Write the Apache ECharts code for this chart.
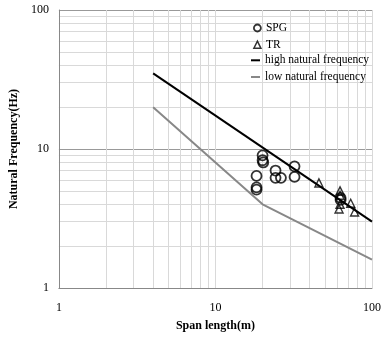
<!DOCTYPE html>
<html><head><meta charset="utf-8">
<script src="https://cdn.jsdelivr.net/npm/echarts@6/dist/echarts.min.js"></script>
<style>html,body{margin:0;padding:0;background:#fff}#c{width:384px;height:337px}</style>
</head><body><div id="c"></div>
<script>
const spgX = [18.3, 18.3, 18.3, 20.0, 20.0, 20.2, 24.2, 24.2, 26.2, 32.0, 32.0, 63.0, 63.0];
const spgY = [6.4, 5.3, 5.1, 9.0, 8.3, 8.0, 7.0, 6.2, 6.2, 7.5, 6.3, 4.3, 4.45];
const trX = [45.8, 62.5, 62.5, 62.5, 61.6, 73.1, 77.4];
const trY = [5.7, 5.0, 4.65, 4.0, 3.7, 4.07, 3.52];
const highX = [4, 100];
const highY = [35, 3];
const lowX = [4, 20, 100];
const lowY = [20, 4, 1.6];
const minorVals = [2,3,4,5,6,7,8,9,20,30,40,50,60,70,80,90];

const zip = (a, b) => a.map((v, i) => [v, b[i]]);
const serif = 'Liberation Serif, Times New Roman, serif';
const legendText = {fontFamily: serif, fontSize: 11.5, color: '#000', lineHeight: 14};
const chart = echarts.init(document.getElementById('c'), null, {renderer: 'canvas'});
chart.setOption({
  animation: false,
  grid: {left: 51, right: 10, top: 10, bottom: 45},
  xAxis: {
    type: 'log', logBase: 10, min: 1, max: 100,
    name: 'Span length(m)', nameLocation: 'middle', nameGap: 32,
    nameTextStyle: {fontFamily: serif, fontWeight: 'bold', fontSize: 12, color: '#000'},
    axisLine: {lineStyle: {color: '#888'}},
    axisTick: {show: false},
    axisLabel: {fontFamily: serif, fontSize: 12, color: '#000', margin: 14},
    splitLine: {show: true, lineStyle: {color: '#d9d9d9', width: 1}}
  },
  yAxis: {
    type: 'log', logBase: 10, min: 1, max: 100,
    name: 'Natural Frequency(Hz)', nameLocation: 'middle', nameGap: 36, nameRotate: 90,
    nameTextStyle: {fontFamily: serif, fontWeight: 'bold', fontSize: 12, color: '#000'},
    axisLine: {show: true, lineStyle: {color: '#888'}},
    axisTick: {show: false},
    axisLabel: {fontFamily: serif, fontSize: 12, color: '#000', margin: 10},
    splitLine: {show: true, lineStyle: {color: '#999', width: 1}}
  },
  legend: [
    {
      orient: 'vertical', left: 253, top: 21, itemGap: 2.7, padding: 0,
      itemWidth: 7, itemHeight: 7, textStyle: legendText,
      data: [
        {name: 'SPG', icon: 'circle', itemStyle: {color: '#fff', borderColor: '#000', borderWidth: 1.8}},
        {name: 'TR', icon: 'triangle', itemStyle: {color: '#fff', borderColor: '#000', borderWidth: 1.5}}
      ]
    },
    {
      orient: 'vertical', left: 251, top: 53.3, itemGap: 2.7, padding: 0,
      itemWidth: 9, itemHeight: 2, textStyle: legendText,
      data: [
        {name: 'high natural frequency', icon: 'rect'},
        {name: 'low natural frequency', icon: 'rect'}
      ]
    }
  ],
  series: [
    {
      type: 'line', name: '_grid', data: [], silent: true, z: 0,
      markLine: {
        silent: true, symbol: 'none', label: {show: false}, z: 0,
        lineStyle: {color: '#d9d9d9', type: 'solid', width: 1},
        data: minorVals.map(v => ({xAxis: v})).concat(minorVals.map(v => ({yAxis: v})))
      }
    },
    {
      type: 'line', name: 'low natural frequency', data: zip(lowX, lowY),
      showSymbol: false, lineStyle: {color: '#888', width: 2}, itemStyle: {color: '#888'}, z: 10
    },
    {
      type: 'line', name: 'high natural frequency', data: zip(highX, highY),
      showSymbol: false, lineStyle: {color: '#000', width: 2}, itemStyle: {color: '#000'}, z: 10
    },
    {
      type: 'scatter', name: 'SPG', data: zip(spgX, spgY), symbol: 'circle', symbolSize: 10,
      itemStyle: {color: 'rgba(255,255,255,0)', borderColor: '#000', borderWidth: 1.8}, z: 11
    },
    {
      type: 'scatter', name: 'TR', data: zip(trX, trY), symbol: 'triangle', symbolSize: 8,
      itemStyle: {color: 'rgba(255,255,255,0)', borderColor: '#000', borderWidth: 1.4}, z: 11
    }
  ]
});
</script></body></html>
